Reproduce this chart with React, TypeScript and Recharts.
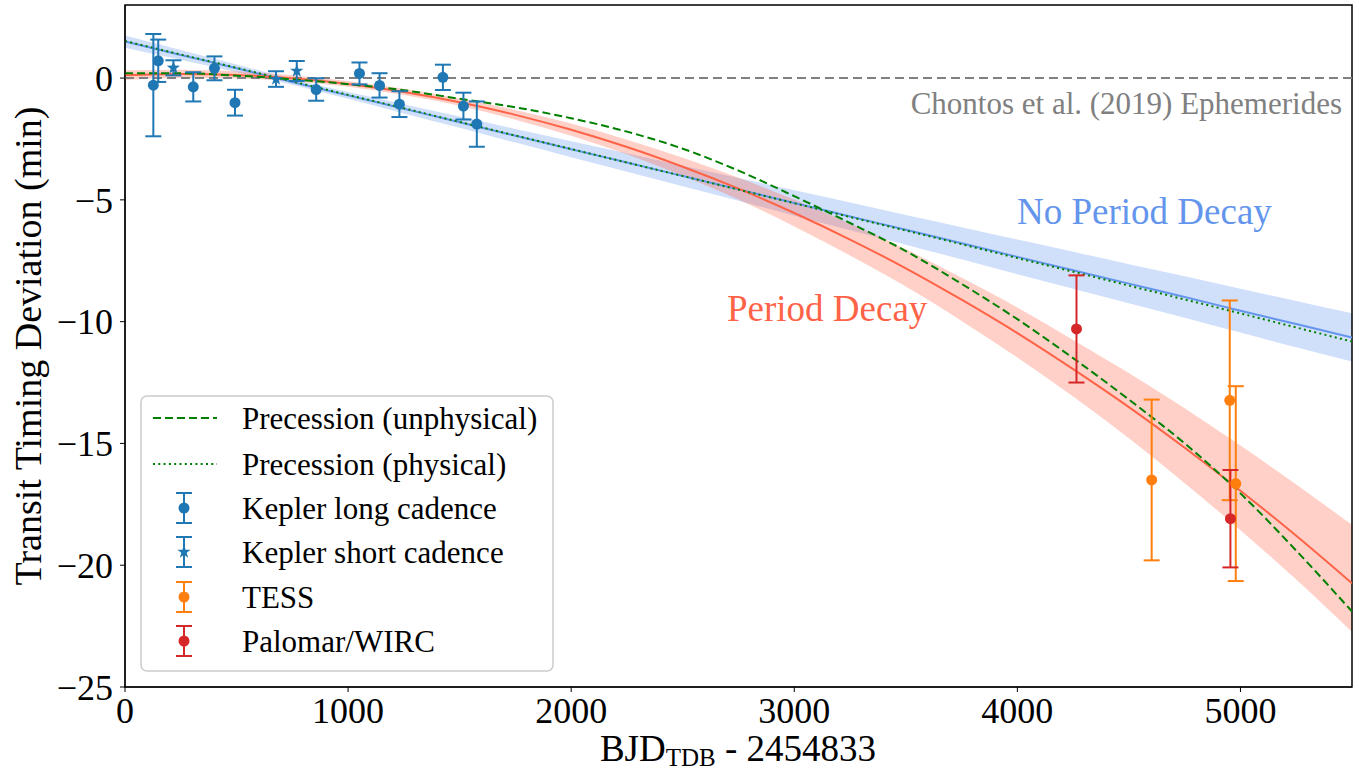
import React from 'react'
import {
  ComposedChart,
  Line,
  Area,
  Scatter,
  ErrorBar,
  XAxis,
  YAxis,
  ReferenceLine,
  ReferenceArea,
  Legend,
  Customized,
} from 'recharts'

// model curves, sampled every 250 days
const modelDays = [
  0, 250, 500, 750, 1000, 1250, 1500, 1750, 2000, 2250, 2500, 2750, 3000, 3250,
  3500, 3750, 4000, 4250, 4500, 4750, 5000, 5250, 5500,
]
const noDecay = [
  1.5, 0.95, 0.4, -0.16, -0.71, -1.26, -1.81, -2.37, -2.92, -3.47, -4.02, -4.57,
  -5.13, -5.68, -6.23, -6.78, -7.34, -7.89, -8.44, -8.99, -9.55, -10.1, -10.65,
]
const noDecayHigh = [
  1.75, 1.15, 0.56, -0.05, -0.57, -1.07, -1.58, -2.09, -2.59, -3.09, -3.6, -4.1,
  -4.61, -5.11, -5.62, -6.12, -6.63, -7.13, -7.64, -8.14, -8.65, -9.15, -9.66,
]
const noDecayLow = [
  1.25, 0.75, 0.24, -0.27, -0.85, -1.45, -2.04, -2.65, -3.25, -3.85, -4.44,
  -5.04, -5.65, -6.25, -6.84, -7.44, -8.05, -8.65, -9.24, -9.84, -10.45, -11.05,
  -11.64,
]
const decay = [
  0.12, 0.17, 0.13, -0.01, -0.24, -0.57, -0.99, -1.51, -2.12, -2.83, -3.64,
  -4.54, -5.54, -6.63, -7.81, -9.1, -10.47, -11.95, -13.51, -15.18, -16.94,
  -18.79, -20.74,
]
const decayHigh = [
  0.32, 0.34, 0.28, 0.12, -0.12, -0.44, -0.84, -1.31, -1.87, -2.53, -3.27,
  -4.09, -4.99, -5.97, -7.03, -8.2, -9.42, -10.75, -12.11, -13.56, -15.09,
  -16.69, -18.34,
]
const decayLow = [
  -0.08, 0.0, -0.02, -0.14, -0.36, -0.7, -1.14, -1.71, -2.37, -3.13, -4.01,
  -4.99, -6.09, -7.28, -8.56, -9.97, -11.47, -13.07, -14.79, -16.63, -18.56,
  -20.59, -22.74,
]
const precUnphysical = [
  0.2, 0.2, 0.1, -0.05, -0.25, -0.5, -0.85, -1.2, -1.65, -2.2, -2.9, -3.8,
  -4.85, -5.95, -7.1, -8.45, -9.9, -11.5, -13.2, -15.0, -17.05, -19.4, -21.9,
]
const precPhysical = [
  1.52, 0.97, 0.42, -0.14, -0.69, -1.24, -1.8, -2.36, -2.91, -3.47, -4.02,
  -4.58, -5.14, -5.7, -6.26, -6.82, -7.39, -7.95, -8.52, -9.09, -9.66, -10.24,
  -10.82,
]

// observed transits
const longCadenceDays = [127, 149, 306, 401, 493, 857, 1051, 1141, 1230, 1425, 1517, 1577]
const longCadenceTtv = [-0.29, 0.71, -0.36, 0.4, -1.01, -0.47, 0.19, -0.3, -1.07, 0.03, -1.15, -1.89]
const longCadenceErr = [2.1, 0.87, 0.6, 0.49, 0.53, 0.46, 0.45, 0.5, 0.53, 0.52, 0.55, 0.93]

const shortCadenceDays = [217, 677, 770]
const shortCadenceTtv = [0.42, -0.04, 0.29]
const shortCadenceErr = [0.31, 0.32, 0.41]

const tessDays = [4602, 4952, 4979]
const tessTtv = [-16.5, -13.23, -16.65]
const tessErr = [3.3, 4.1, 4.0]

const wircDays = [4265, 4955]
const wircTtv = [-10.3, -18.09]
const wircErr = [2.2, 2.0]

const xTicks = [0, 1000, 2000, 3000, 4000, 5000]
const yTicks = [-25, -20, -15, -10, -5, 0]

const legendLabels = [
  'Precession (unphysical)',
  'Precession (physical)',
  'Kepler long cadence',
  'Kepler short cadence',
  'TESS',
  'Palomar/WIRC',
]

const modelData = modelDays.map((x, i) => ({
  x,
  noDecay: noDecay[i],
  noDecayBand: [noDecayLow[i], noDecayHigh[i]],
  decay: decay[i],
  decayBand: [decayLow[i], decayHigh[i]],
  precUnphysical: precUnphysical[i],
  precPhysical: precPhysical[i],
}))

const points = (xs: number[], ys: number[], errs: number[]) =>
  xs.map((x, i) => ({ x, y: ys[i], err: errs[i] }))

const longCadence = points(longCadenceDays, longCadenceTtv, longCadenceErr)
const shortCadence = points(shortCadenceDays, shortCadenceTtv, shortCadenceErr)
const tess = points(tessDays, tessTtv, tessErr)
const wirc = points(wircDays, wircTtv, wircErr)

const FONT = '"Liberation Serif", "Times New Roman", serif'
const TAB_BLUE = '#1f77b4'
const TAB_ORANGE = '#ff7f0e'
const TAB_RED = '#d62728'
const DASH = '8 4'
const DOTS = '2 3.3'

const starPath = (cx: number, cy: number, r: number) => {
  const pts: string[] = []
  for (let k = 0; k < 10; k++) {
    const rad = k % 2 === 0 ? r : r * 0.4
    const a = -Math.PI / 2 + (k * Math.PI) / 5
    pts.push(`${cx + rad * Math.cos(a)},${cy + rad * Math.sin(a)}`)
  }
  return pts.join(' ')
}

const dot = (color: string) => (props: any) =>
  <circle cx={props.cx} cy={props.cy} r={5.5} fill={color} />

const star = (props: any) =>
  <polygon points={starPath(props.cx, props.cy, 7)} fill={TAB_BLUE} />

const fmtMinus = (v: number) => (v < 0 ? `\u2212${Math.abs(v)}` : `${v}`)

function ErrHandle({ cx, cy, color, marker }: { cx: number; cy: number; color: string; marker: 'dot' | 'star' }) {
  return (
    <g>
      <line x1={cx} y1={cy - 15} x2={cx} y2={cy + 15} stroke={color} strokeWidth={2} />
      <line x1={cx - 8} y1={cy - 15} x2={cx + 8} y2={cy - 15} stroke={color} strokeWidth={2} />
      <line x1={cx - 8} y1={cy + 15} x2={cx + 8} y2={cy + 15} stroke={color} strokeWidth={2} />
      {marker === 'dot'
        ? <circle cx={cx} cy={cy} r={5.5} fill={color} />
        : <polygon points={starPath(cx, cy, 7)} fill={color} />}
    </g>
  )
}

function LegendBox() {
  const rowY = [23, 69, 113, 157, 202, 246]
  return (
    <svg width={416} height={280} style={{ display: 'block', fontFamily: FONT }}>
      <rect x={1} y={1} width={412} height={275} rx={6} fill="#fff" fillOpacity={0.8} stroke="#cccccc" strokeWidth={1.5} />
      <line x1={13} y1={rowY[0]} x2={77} y2={rowY[0]} stroke="green" strokeWidth={2} strokeDasharray={DASH} />
      <line x1={13} y1={rowY[1]} x2={77} y2={rowY[1]} stroke="green" strokeWidth={2} strokeDasharray={DOTS} />
      <ErrHandle cx={44} cy={rowY[2]} color={TAB_BLUE} marker="dot" />
      <ErrHandle cx={44} cy={rowY[3]} color={TAB_BLUE} marker="star" />
      <ErrHandle cx={44} cy={rowY[4]} color={TAB_ORANGE} marker="dot" />
      <ErrHandle cx={44} cy={rowY[5]} color={TAB_RED} marker="dot" />
      {legendLabels.map((t, i) => (
        <text key={t} x={102} y={rowY[i] + 11} fontSize={31} fill="#000">{t}</text>
      ))}
    </svg>
  )
}

const Annotations = () => (
  <g style={{ fontFamily: FONT }}>
    <text x={1342} y={114} textAnchor="end" fontSize={31} fill="#808080">
      Chontos et al. (2019) Ephemerides
    </text>
    <text x={1017} y={224} fontSize={37} fill="#6495ED">No Period Decay</text>
    <text x={727} y={321} fontSize={37} fill="#FF6347">Period Decay</text>
  </g>
)

export default function App() {
  return (
    <div style={{ position: 'absolute', left: 0, top: 0, fontFamily: FONT, background: '#fff' }}>
      <ComposedChart
        width={1359}
        height={770}
        data={modelData}
        margin={{ top: 5, right: 7, bottom: 0, left: 0 }}
        style={{ fontFamily: FONT }}
      >
        <XAxis
          dataKey="x"
          type="number"
          domain={[0, 5500]}
          ticks={xTicks}
          allowDataOverflow
          height={83}
          stroke="#000"
          tickSize={5}
          tickMargin={5}
          tick={{ fill: '#000', fontSize: 36 }}
          label={{
            content: () => (
              <text x={738} y={761} textAnchor="middle" fontSize={37} fill="#000">
                <tspan>BJD</tspan>
                <tspan fontSize={25} dy={5}>TDB</tspan>
                <tspan dy={-5}> - 2454833</tspan>
              </text>
            ),
          }}
        />
        <YAxis
          type="number"
          domain={[-25, 3]}
          ticks={yTicks}
          allowDataOverflow
          width={125}
          stroke="#000"
          tickSize={5}
          tickMargin={7}
          tickFormatter={fmtMinus}
          tick={{ fill: '#000', fontSize: 36 }}
          label={{
            content: () => (
              <text x={41} y={346} transform="rotate(-90 41 346)" textAnchor="middle" fontSize={38} fill="#000">
                Transit Timing Deviation (min)
              </text>
            ),
          }}
        />
        <Area dataKey="noDecayBand" type="monotone" stroke="none" fill="#6495ED" fillOpacity={0.3} isAnimationActive={false} />
        <Area dataKey="decayBand" type="monotone" stroke="none" fill="#FF6347" fillOpacity={0.3} isAnimationActive={false} />
        <ReferenceLine y={0} stroke="#808080" strokeWidth={2} strokeDasharray="9 5" />
        <Line dataKey="noDecay" type="monotone" stroke="#6495ED" strokeWidth={2} dot={false} activeDot={false} isAnimationActive={false} />
        <Line dataKey="decay" type="monotone" stroke="#FF6347" strokeWidth={2} dot={false} activeDot={false} isAnimationActive={false} />
        <Line dataKey="precUnphysical" type="monotone" stroke="green" strokeWidth={2} strokeDasharray={DASH} dot={false} activeDot={false} isAnimationActive={false} />
        <Line dataKey="precPhysical" type="monotone" stroke="green" strokeWidth={2} strokeDasharray={DOTS} dot={false} activeDot={false} isAnimationActive={false} />
        <Scatter data={longCadence} dataKey="y" shape={dot(TAB_BLUE)} isAnimationActive={false}>
          <ErrorBar dataKey="err" direction="y" width={8} stroke={TAB_BLUE} strokeWidth={2} />
        </Scatter>
        <Scatter data={shortCadence} dataKey="y" shape={star} isAnimationActive={false}>
          <ErrorBar dataKey="err" direction="y" width={8} stroke={TAB_BLUE} strokeWidth={2} />
        </Scatter>
        <Scatter data={tess} dataKey="y" shape={dot(TAB_ORANGE)} isAnimationActive={false}>
          <ErrorBar dataKey="err" direction="y" width={8} stroke={TAB_ORANGE} strokeWidth={2} />
        </Scatter>
        <Scatter data={wirc} dataKey="y" shape={dot(TAB_RED)} isAnimationActive={false}>
          <ErrorBar dataKey="err" direction="y" width={8} stroke={TAB_RED} strokeWidth={2} />
        </Scatter>
        <ReferenceArea x1={0} x2={5500} y1={-25} y2={3} fill="none" stroke="#000" strokeWidth={1.5} />
        <Customized component={Annotations} />
        <Legend
          content={() => <LegendBox />}
          layout="vertical"
          align="center"
          verticalAlign="middle"
          wrapperStyle={{ left: 140, top: 395, width: 416, height: 280 }}
        />
      </ComposedChart>
    </div>
  )
}
